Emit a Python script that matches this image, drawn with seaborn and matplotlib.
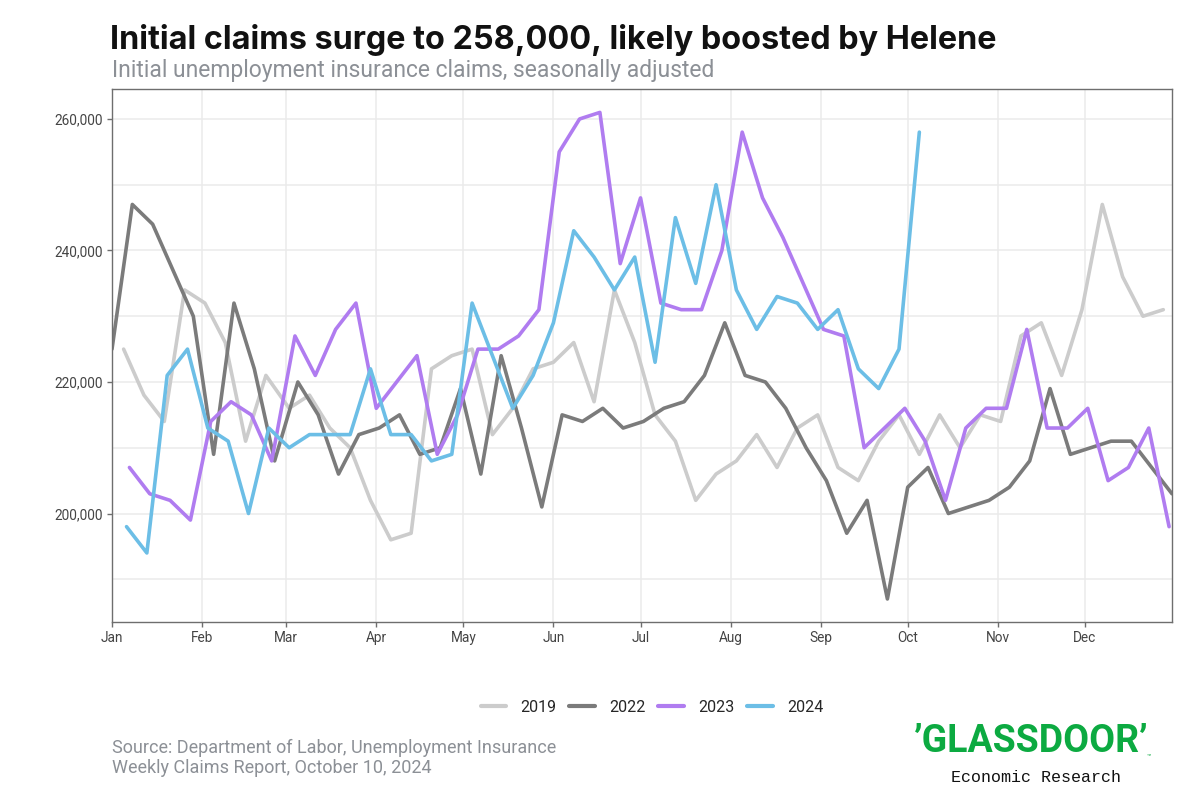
import numpy as np
import pandas as pd
import matplotlib
matplotlib.use("Agg")
import matplotlib.pyplot as plt
import matplotlib.dates as mdates
from matplotlib.ticker import FuncFormatter, MultipleLocator
from matplotlib.lines import Line2D
import seaborn as sns

# ---- data (weekly initial claims, thousands) ----
years = ["2019", "2022", "2023", "2024"]
first_week = {"2019": "2019-01-05", "2022": "2022-01-01", "2023": "2023-01-07", "2024": "2024-01-06"}

claims_2019 = [225, 218, 214, 234, 232, 226, 211, 221, 216, 218, 213, 210, 202,
               196, 197, 222, 224, 225, 212, 216, 222, 223, 226, 217, 234, 226,
               215, 211, 202, 206, 208, 212, 207, 213, 215, 207, 205, 211, 215,
               209, 215, 210, 215, 214, 227, 229, 221, 231, 247, 236, 230, 231]
claims_2022 = [225, 247, 244, 237, 230, 209, 232, 222, 208, 220, 215, 206, 212,
               213, 215, 209, 210, 219, 206, 224, 213, 201, 215, 214, 216, 213,
               214, 216, 217, 221, 229, 221, 220, 216, 210, 205, 197, 202, 187,
               204, 207, 200, 201, 202, 204, 208, 219, 209, 210, 211, 211, 207, 203]
claims_2023 = [207, 203, 202, 199, 214, 217, 215, 208, 227, 221, 228, 232, 216,
               220, 224, 209, 215, 225, 225, 227, 231, 255, 260, 261, 238, 248,
               232, 231, 231, 240, 258, 248, 242, 235, 228, 227, 210, 213, 216,
               211, 202, 213, 216, 216, 228, 213, 213, 216, 205, 207, 213, 198]
claims_2024 = [198, 194, 221, 225, 213, 211, 200, 213, 210, 212, 212, 212, 222,
               212, 212, 208, 209, 232, 224, 216, 221, 229, 243, 239, 234, 239,
               223, 245, 235, 250, 234, 228, 233, 232, 228, 231, 222, 219, 225, 258]
series = {"2019": claims_2019, "2022": claims_2022, "2023": claims_2023, "2024": claims_2024}

month_labels = ["Jan", "Feb", "Mar", "Apr", "May", "Jun", "Jul", "Aug", "Sep", "Oct", "Nov", "Dec"]

title = "Initial claims surge to 258,000, likely boosted by Helene"
subtitle = "Initial unemployment insurance claims, seasonally adjusted"
source = "Source: Department of Labor, Unemployment Insurance\nWeekly Claims Report, October 10, 2024"

colors = {"2019": "#cccccc", "2022": "#7b7b7b", "2023": "#b07cf0", "2024": "#6cbee6"}

# ---- build long table, aligning every year on a common calendar ----
rows = []
for y in years:
    vals = series[y]
    dates = pd.date_range(first_week[y], periods=len(vals), freq="7D")
    for d, v in zip(dates, vals):
        rows.append({"year": y,
                     "date": pd.Timestamp(2024, d.month, d.day),
                     "claims": v * 1000})
df = pd.DataFrame(rows)

sns.set_theme(style="white")
plt.rcParams["font.family"] = ["Roboto", "DejaVu Sans"]

fig = plt.figure(figsize=(12, 8), dpi=100)
ax = fig.add_axes([112 / 1200, 1 - 622 / 800, (1172 - 112) / 1200, (622 - 89) / 800])

sns.lineplot(data=df, x="date", y="claims", hue="year", hue_order=years,
             palette=colors, linewidth=2.6, ax=ax, legend=False, sort=False)

ax.set_xlim(pd.Timestamp("2024-01-01"), pd.Timestamp("2024-12-31"))
ax.set_ylim(183500, 264560)

ax.xaxis.set_major_locator(mdates.MonthLocator())
ax.xaxis.set_major_formatter(FuncFormatter(lambda x, p: month_labels[mdates.num2date(x).month - 1]))
ax.yaxis.set_major_locator(MultipleLocator(20000))
ax.yaxis.set_minor_locator(MultipleLocator(10000))
ax.yaxis.set_major_formatter(FuncFormatter(lambda v, p: f"{int(v):,}"))

ax.grid(True, which="major", axis="both", color="#ebebeb", linewidth=1.1)
ax.grid(True, which="minor", axis="y", color="#ebebeb", linewidth=1.1)
ax.set_axisbelow(True)

for s in ax.spines.values():
    s.set_color("#6e6e6e")
    s.set_linewidth(1.0)

ax.tick_params(axis="both", which="major", length=3.5, width=1, color="#6e6e6e",
               labelsize=9.8, labelcolor="#444444", pad=3, bottom=True, left=True)
ax.tick_params(axis="y", which="minor", length=0)
ax.set_xlabel("")
ax.set_ylabel("")

# legend
handles = [Line2D([0], [0], color=colors[y], linewidth=3) for y in years]
fig.legend(handles, years, loc="center", bbox_to_anchor=(652 / 1200, 1 - 707 / 800),
           ncol=4, frameon=False, fontsize=11.5, handlelength=1.6, handletextpad=0.9,
           columnspacing=0.8)

# titles
fig.text(110 / 1200, 1 - 40 / 800, title, fontsize=23.3, fontweight="bold",
         color="#111111", va="center", ha="left", family=["Inter", "DejaVu Sans"])
fig.text(112 / 1200, 1 - 71 / 800, subtitle, fontsize=16.5, color="#8c9096",
         va="center", ha="left")

# source
fig.text(112 / 1200, 1 - 758 / 800, source, fontsize=13, color="#8c9096",
         va="center", ha="left", linespacing=1.2)

# logo
fig.text(1031 / 1200, 1 - 742 / 800, "\u2019GLASSDOOR\u2019", fontsize=27, fontweight="bold",
         color="#0caa41", va="center", ha="center",
         family=["Liberation Sans Narrow", "Roboto", "DejaVu Sans"])
fig.text(1147 / 1200, 1 - 757 / 800, "\u2122", fontsize=5, color="#0caa41",
         va="center", ha="left")
fig.text(1036 / 1200, 1 - 777 / 800, "Economic Research", fontsize=12, color="#111111",
         va="center", ha="center", family=["Liberation Mono", "DejaVu Sans Mono"])

fig.savefig("out.png", dpi=100)
